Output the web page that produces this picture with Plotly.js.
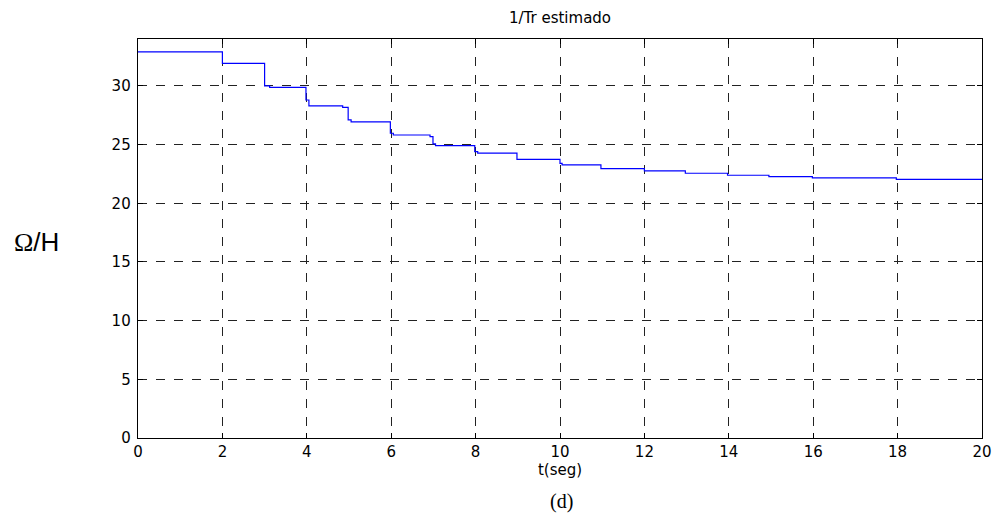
<!DOCTYPE html>
<html>
<head>
<meta charset="utf-8">
<script src="https://cdn.plot.ly/plotly-3.0.1.min.js"></script>
<style>html,body{margin:0;padding:0;background:#fff;}</style>
</head>
<body>
<div id="chart" style="width:996px;height:523px;"></div>
<script>
const tSeg = [0, 2, 3, 3.12, 3.98, 4.05, 4.85, 4.98, 5.05, 5.98, 6.05, 6.92, 6.99, 7.05, 7.98, 8.05, 8.98, 10.0, 10.05, 10.97, 12.0, 12.97, 13.97, 14.95, 15.98, 17.97, 20];
const invTr = [32.9, 31.92, 30.0, 29.88, 28.8, 28.3, 28.18, 27.1, 26.93, 25.97, 25.82, 25.68, 25.06, 24.92, 24.4, 24.27, 23.75, 23.4, 23.27, 22.96, 22.77, 22.56, 22.39, 22.28, 22.17, 22.04, 22.04];
const xTicks = [0, 2, 4, 6, 8, 10, 12, 14, 16, 18, 20];
const yTicks = [0, 5, 10, 15, 20, 25, 30];

const sans = 'DejaVu Sans, Liberation Sans, Arial, sans-serif';
const trace = {
  x: tSeg, y: invTr, type: 'scatter', mode: 'lines',
  line: {color: '#0000ff', width: 1.2, shape: 'hv'},
  hoverinfo: 'skip'
};
const axisCommon = {
  showline: true, linecolor: '#000', linewidth: 1.3, mirror: 'ticks',
  ticks: 'inside', ticklen: 5, tickcolor: '#000', tickwidth: 1,
  showgrid: true, gridcolor: '#222', griddash: 'dash', gridwidth: 1,
  zeroline: false, tickfont: {family: sans, size: 15, color: '#000'}
};
const layout = {
  width: 996, height: 523,
  margin: {l: 138, r: 14, t: 39, b: 85},
  paper_bgcolor: '#fff', plot_bgcolor: '#fff',
  showlegend: false,
  title: {text: '1/Tr estimado', font: {family: sans, size: 15, color: '#000'},
          x: 0.5, xref: 'paper', xanchor: 'center', y: 0.966, yref: 'container', yanchor: 'middle'},
  xaxis: Object.assign({}, axisCommon, {
    range: [0, 20], tickvals: xTicks, ticktext: xTicks.map(String),
    title: {text: 't(seg)', font: {family: sans, size: 15, color: '#000'}, standoff: 2}
  }),
  yaxis: Object.assign({}, axisCommon, {
    range: [0, 34], tickvals: yTicks, ticktext: yTicks.map(String), ticklabelstandoff: 3
  }),
  annotations: [
    {text: '<span style="font-family:Liberation Serif, Times New Roman, serif">Ω</span>/H', xref: 'paper', yref: 'paper', x: -0.12, y: 0.49, xanchor: 'center', yanchor: 'middle',
     showarrow: false, font: {family: 'Liberation Sans, Arial, sans-serif', size: 26, color: '#000'}},
    {text: '(d)', xref: 'paper', yref: 'paper', x: 0.502, y: -0.16, xanchor: 'center', yanchor: 'middle',
     showarrow: false, font: {family: 'Liberation Serif, Times New Roman, serif', size: 20, color: '#000'}}
  ]
};
Plotly.newPlot('chart', [trace], layout, {displayModeBar: false, staticPlot: true});
</script>
</body>
</html>
